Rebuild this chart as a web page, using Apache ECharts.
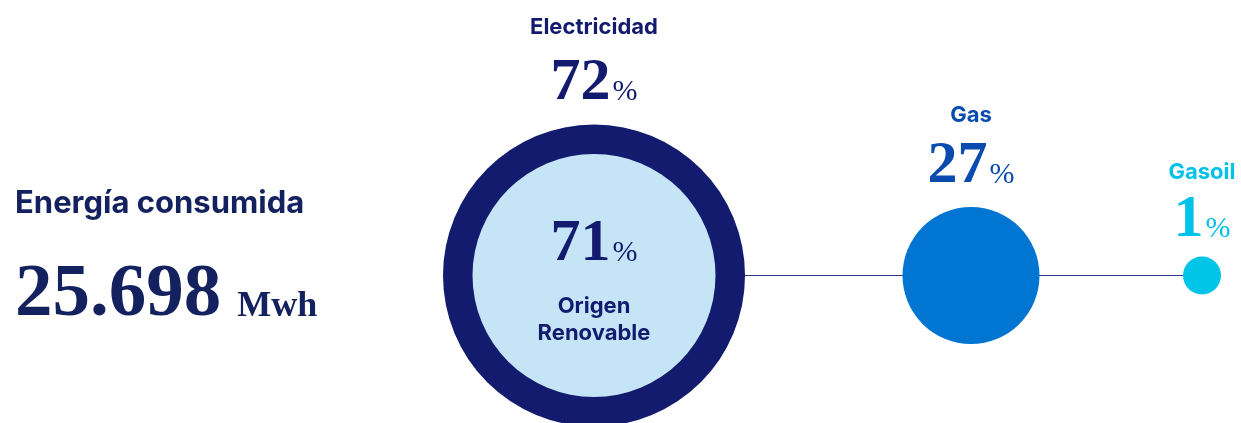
<!DOCTYPE html>
<html>
<head>
<meta charset="utf-8">
<script src="https://cdn.jsdelivr.net/npm/echarts@6/dist/echarts.min.js"></script>
<style>
  html, body { margin: 0; padding: 0; background: #fff; }
  #main { width: 1241px; height: 423px; }
</style>
</head>
<body>
<div id="main"></div>
<script>
// datos
var headline = 'Energía consumida';
var totalEnergy = '25.698';
var totalUnit = 'Mwh';
var categories = ['Electricidad', 'Gas', 'Gasoil'];
var shares = [72, 27, 1];
var renewableShare = 71;
var renewableLabel = ['Origen', 'Renovable'];

// maquetacion (px dentro del grid)
var slotX = [594, 971, 1202];
var rowY = 275.5;
var diam = [302, 137, 38];
var innerDiam = 243;
var fill = ['#121B6E', '#0175D2', '#00C5E8'];
var textCol = ['#121B6E', '#0A4BB0', '#00C2E8'];
var labelGap = [11, 11, 6];
var nameLine = [52, 42, 36];

var SANS = 'Inter';
var SERIF = 'Liberation Serif';

var chart = echarts.init(document.getElementById('main'));

function topLabel(i) {
  return {
    show: true,
    position: 'top',
    distance: labelGap[i],
    align: 'center',
    color: textCol[i],
    formatter: '{n|' + categories[i] + '}\n{v|' + shares[i] + '}{p|%}',
    rich: {
      n: { fontFamily: SANS, fontWeight: 700, fontSize: 22, color: textCol[i], lineHeight: nameLine[i], align: 'center' },
      v: { fontFamily: SERIF, fontWeight: 700, fontSize: 60, color: textCol[i], lineHeight: 60, verticalAlign: 'bottom' },
      p: { fontFamily: SERIF, fontWeight: 400, fontSize: 30, color: textCol[i], lineHeight: 60, verticalAlign: 'bottom', padding: [0, 0, 6, 2] }
    }
  };
}

var outerData = categories.map(function (c, i) {
  return {
    name: c,
    value: [slotX[i], rowY, shares[i]],
    symbolSize: diam[i],
    itemStyle: { color: fill[i], opacity: 1 },
    label: topLabel(i)
  };
});

var option = {
  animation: false,
  title: [
    {
      text: headline,
      left: 15,
      top: 188,
      padding: 0,
      textStyle: { fontFamily: SANS, fontWeight: 700, fontSize: 31, color: '#13215E' }
    },
    {
      text: '{n|' + totalEnergy + '} {u|' + totalUnit + '}',
      left: 15,
      top: 253,
      padding: 0,
      textStyle: {
        rich: {
          n: { fontFamily: SERIF, fontWeight: 700, fontSize: 75, color: '#13215E', lineHeight: 80, verticalAlign: 'bottom' },
          u: { fontFamily: SERIF, fontWeight: 700, fontSize: 36, color: '#13215E', lineHeight: 80, verticalAlign: 'bottom', padding: [0, 0, 8, 11] }
        }
      }
    }
  ],
  grid: { left: 0, right: 0, top: 0, bottom: 0 },
  xAxis: { type: 'value', min: 0, max: 1241, show: false },
  yAxis: { type: 'value', min: 0, max: 423, inverse: true, show: false },
  series: [
    {
      type: 'line',
      data: [[slotX[0], rowY], [slotX[2], rowY]],
      symbol: 'none',
      lineStyle: { color: '#2F3A8F', width: 1 },
      z: 1,
      silent: true
    },
    {
      type: 'scatter',
      data: outerData,
      z: 2
    },
    {
      type: 'scatter',
      data: [{
        name: renewableLabel.join(' '),
        value: [slotX[0], rowY, renewableShare],
        symbolSize: innerDiam,
        itemStyle: { color: '#C5E4F6', opacity: 1 },
        label: {
          show: true,
          position: 'inside',
          offset: [0, 15],
          formatter: '{v|' + renewableShare + '}{p|%}\n{t|' + renewableLabel[0] + '}\n{t|' + renewableLabel[1] + '}',
          rich: {
            v: { fontFamily: SERIF, fontWeight: 700, fontSize: 60, color: '#121B6E', lineHeight: 58, verticalAlign: 'bottom', padding: [0, 0, 18, 0] },
            p: { fontFamily: SERIF, fontWeight: 400, fontSize: 30, color: '#121B6E', lineHeight: 58, verticalAlign: 'bottom', padding: [0, 0, 24, 2] },
            t: { fontFamily: SANS, fontWeight: 700, fontSize: 22, color: '#121B6E', lineHeight: 27, align: 'center' }
          }
        }
      }],
      z: 3
    }
  ]
};

chart.setOption(option);
</script>
</body>
</html>
